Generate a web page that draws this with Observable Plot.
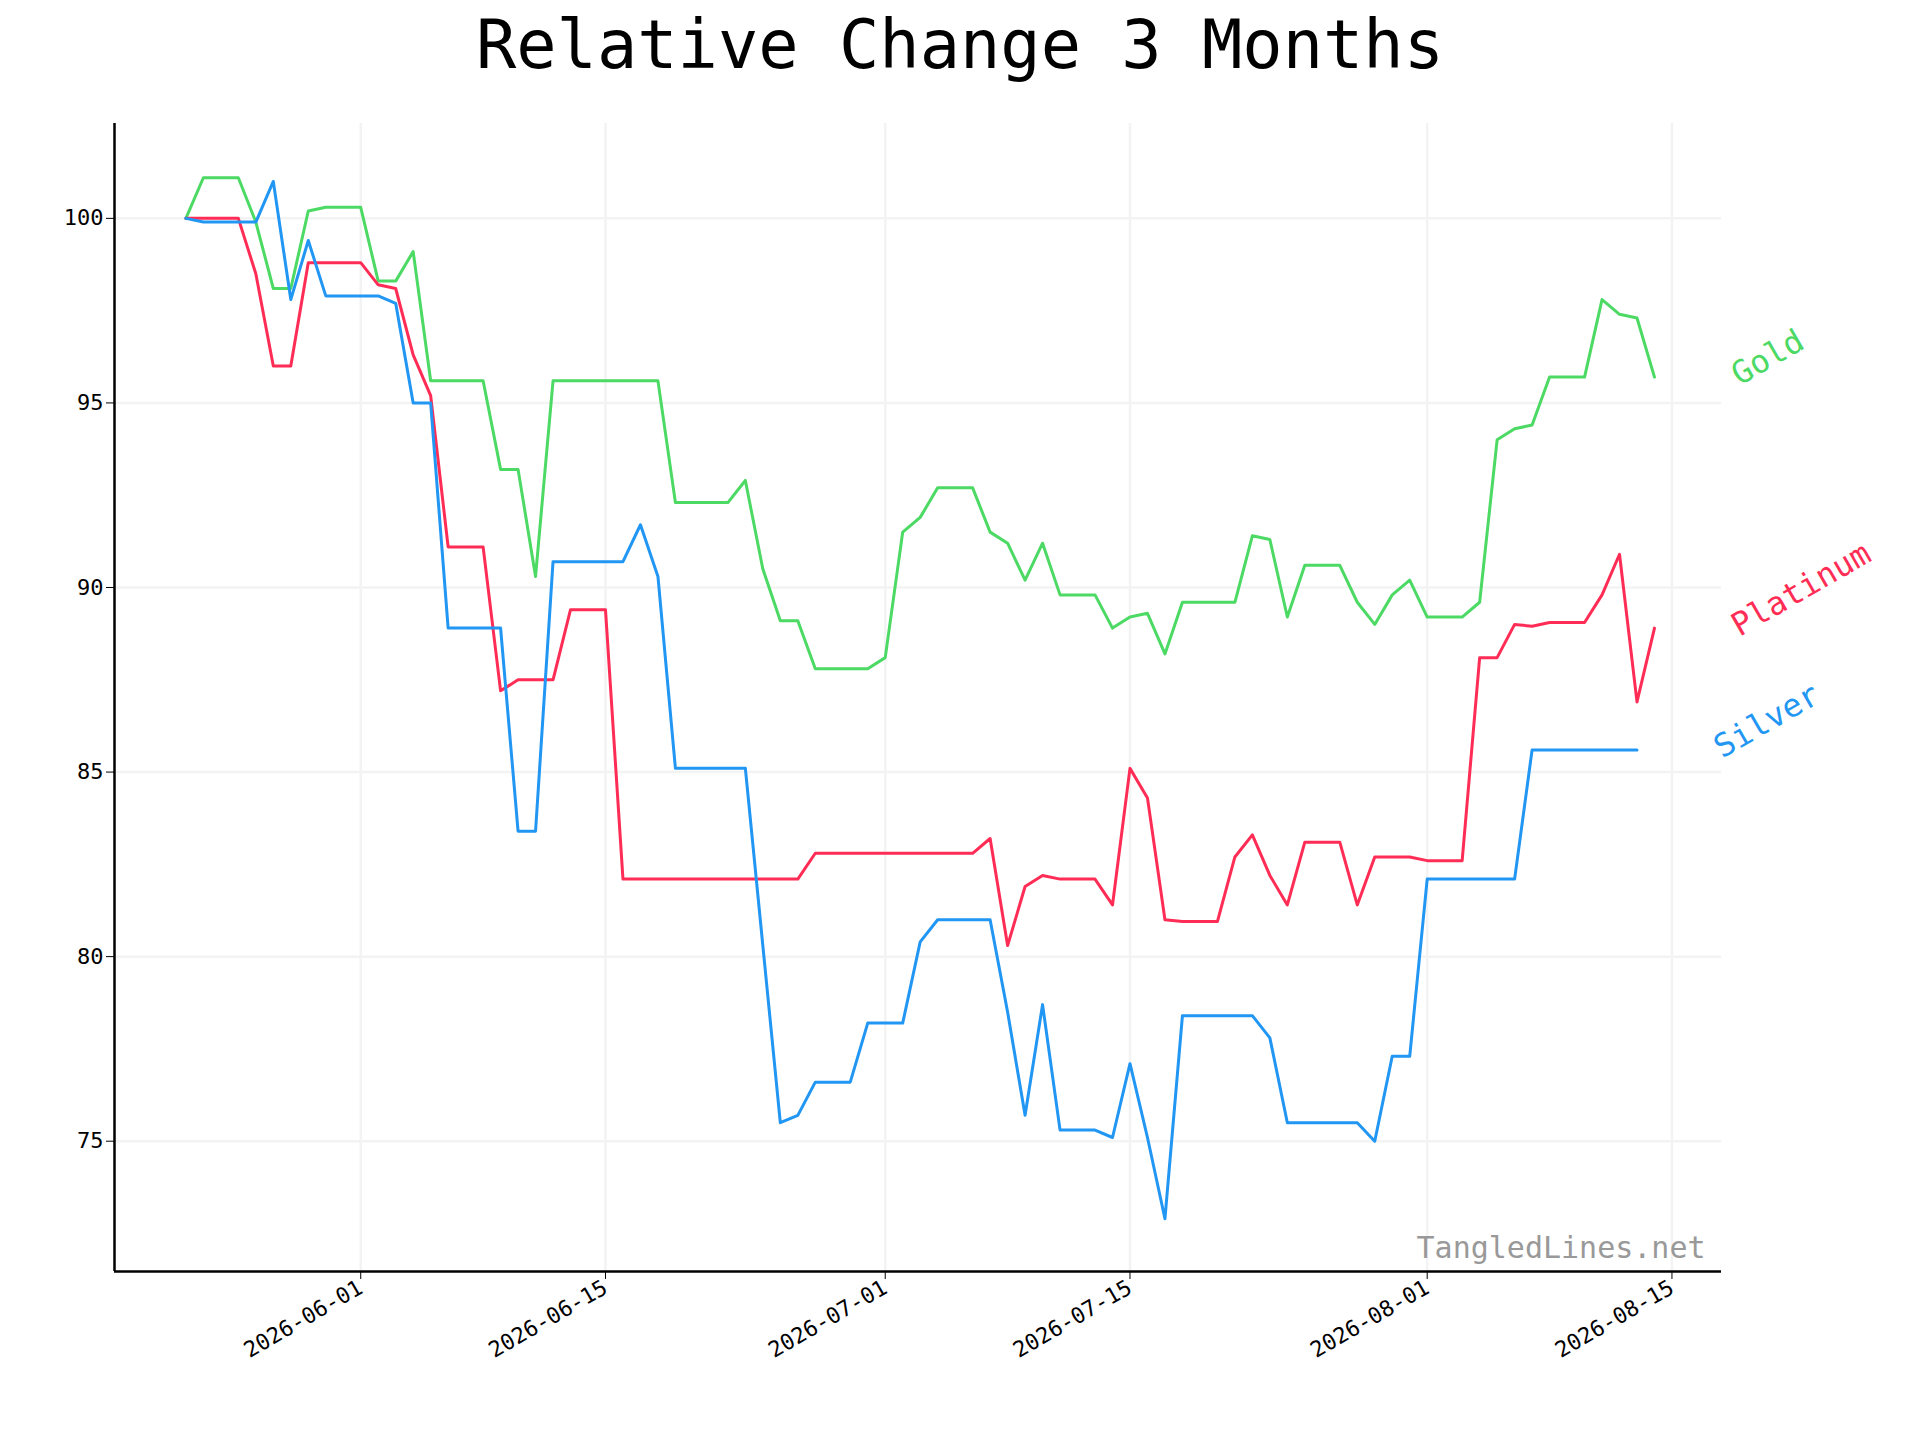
<!DOCTYPE html>
<html><head><meta charset="utf-8">
<script src="https://cdn.jsdelivr.net/npm/d3@7"></script>
<script src="https://cdn.jsdelivr.net/npm/@observablehq/plot@0.6"></script>
<style>
body{margin:0;background:#fff;font-family:"DejaVu Sans Mono",monospace;}
#title{height:100px;width:1920px;text-align:center;font-size:67px;line-height:90px;}
</style></head><body>
<div id="title">Relative Change 3 Months</div>
<div id="chart"></div>
<script>
const startDate = "2026-05-22";
const gold = [100,101.1,101.1,101.1,99.9,98.1,98.1,100.2,100.3,100.3,100.3,98.3,98.3,99.1,95.6,95.6,95.6,95.6,93.2,93.2,90.3,95.6,95.6,95.6,95.6,95.6,95.6,95.6,92.3,92.3,92.3,92.3,92.9,90.5,89.1,89.1,87.8,87.8,87.8,87.8,88.1,91.5,91.9,92.7,92.7,92.7,91.5,91.2,90.2,91.2,89.8,89.8,89.8,88.9,89.2,89.3,88.2,89.6,89.6,89.6,89.6,91.4,91.3,89.2,90.6,90.6,90.6,89.6,89.0,89.8,90.2,89.2,89.2,89.2,89.6,94.0,94.3,94.4,95.7,95.7,95.7,97.8,97.4,97.3,95.7];
const silver = [100,99.9,99.9,99.9,99.9,101.0,97.8,99.4,97.9,97.9,97.9,97.9,97.7,95.0,95.0,88.9,88.9,88.9,88.9,83.4,83.4,90.7,90.7,90.7,90.7,90.7,91.7,90.3,85.1,85.1,85.1,85.1,85.1,80.3,75.5,75.7,76.6,76.6,76.6,78.2,78.2,78.2,80.4,81.0,81.0,81.0,81.0,78.5,75.7,78.7,75.3,75.3,75.3,75.1,77.1,75.1,72.9,78.4,78.4,78.4,78.4,78.4,77.8,75.5,75.5,75.5,75.5,75.5,75.0,77.3,77.3,82.1,82.1,82.1,82.1,82.1,82.1,85.6,85.6,85.6,85.6,85.6,85.6,85.6];
const platinum = [100,100,100,100,98.5,96.0,96.0,98.8,98.8,98.8,98.8,98.2,98.1,96.3,95.2,91.1,91.1,91.1,87.2,87.5,87.5,87.5,89.4,89.4,89.4,82.1,82.1,82.1,82.1,82.1,82.1,82.1,82.1,82.1,82.1,82.1,82.8,82.8,82.8,82.8,82.8,82.8,82.8,82.8,82.8,82.8,83.2,80.3,81.9,82.2,82.1,82.1,82.1,81.4,85.1,84.3,81.0,80.95,80.95,80.95,82.7,83.3,82.2,81.4,83.1,83.1,83.1,81.4,82.7,82.7,82.7,82.6,82.6,82.6,88.1,88.1,89.0,88.95,89.05,89.05,89.05,89.8,90.9,86.9,88.9];
const seriesNames = ["Gold","Platinum","Silver"];
const seriesColors = ["#4cd964","#ff2d55","#2196f3"];
const xTicks = ["2026-06-01","2026-06-15","2026-07-01","2026-07-15","2026-08-01","2026-08-15"];
const yTicks = [75,80,85,90,95,100];

const day = i => d3.utcDay.offset(new Date(startDate), i);
const rows = [];
[["Gold",gold],["Platinum",platinum],["Silver",silver]].forEach(([s,arr]) =>
  arr.forEach((v,i) => rows.push({series:s, date:day(i), value:v})));
const lasts = seriesNames.map(s => rows.filter(r => r.series===s).at(-1));
const color = {domain: seriesNames, range: seriesColors};
const xDom = [new Date("2026-05-17T22:00Z"), new Date("2026-08-17T20:00Z")];

const plot = Plot.plot({
  width:1920, height:1340,
  marginTop:23, marginBottom:169, marginLeft:114, marginRight:199,
  style:{fontFamily:"DejaVu Sans Mono, monospace", fontSize:"20px", background:"#fff", overflow:"visible"},
  x:{type:"utc", domain:xDom, label:null},
  y:{domain:[71.47,102.57], label:null},
  color,
  marks:[
    Plot.gridX(xTicks.map(d=>new Date(d)), {stroke:"#f3f3f3", strokeOpacity:1, strokeWidth:2.5}),
    Plot.gridY(yTicks, {stroke:"#f3f3f3", strokeOpacity:1, strokeWidth:2.5}),
    Plot.axisX({ticks:xTicks.map(d=>new Date(d)), tickFormat:d3.utcFormat("%Y-%m-%d"), tickRotate:-30, tickSize:8, fontSize:22, textAnchor:"end", label:null}),
    Plot.axisY({ticks:yTicks, tickSize:8, fontSize:22, label:null}),
    Plot.ruleX([xDom[0]], {stroke:"#000", strokeWidth:2.5}),
    Plot.ruleY([71.47], {stroke:"#000", strokeWidth:2.5}),
    Plot.line(rows, {x:"date", y:"value", z:"series", stroke:"series", strokeWidth:3}),
    Plot.text(lasts, {x:"date", y:"value", text:"series", fill:"series", dx:80, textAnchor:"start", rotate:-30, fontSize:32}),
    Plot.text(["TangledLines.net"], {frameAnchor:"bottom-right", dx:-16, dy:-14, fill:"#999", fontSize:30})
  ]
});
document.getElementById("chart").appendChild(plot);
</script></body></html>
